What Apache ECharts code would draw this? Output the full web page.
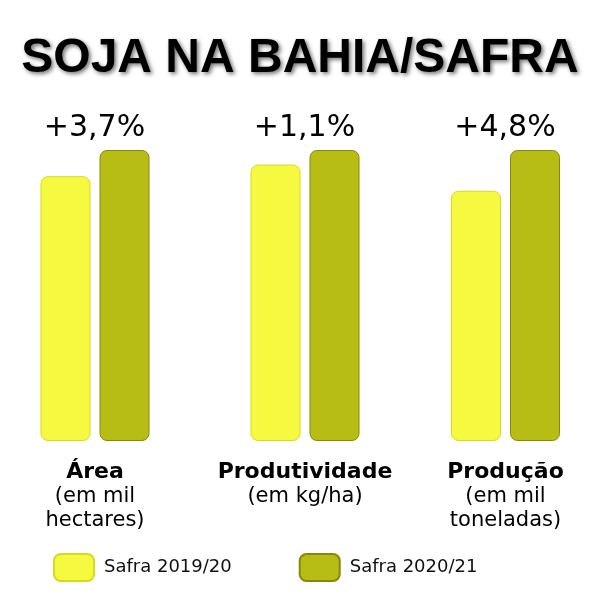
<!DOCTYPE html>
<html><head><meta charset="utf-8">
<script src="https://cdn.jsdelivr.net/npm/echarts@6/dist/echarts.min.js"></script>
<style>html,body{margin:0;padding:0;background:#fff}#c{width:600px;height:606px}</style>
</head><body><div id="c"></div>
<script>
const title = 'SOJA NA BAHIA/SAFRA';
const categories = ['Área', 'Produtividade', 'Produção'];
const units = ['(em mil\nhectares)', '(em kg/ha)', '(em mil\ntoneladas)'];
const seriesNames = ['Safra 2019/20', 'Safra 2020/21'];
const safra1920 = [91, 95, 86];
const safra2021 = [100, 100, 100];
const changes = ['+3,7%', '+1,1%', '+4,8%'];

const FONT = 'DejaVu Sans';
const groupLeft = [0, 210, 411];
const grids = [], xAxes = [], yAxes = [], series = [];
categories.forEach((cat, i) => {
  grids.push({ left: groupLeft[i], width: 190, top: 150, bottom: 165 });
  xAxes.push({
    type: 'category', gridIndex: i, data: [cat],
    axisLine: { show: false }, axisTick: { show: false },
    axisLabel: {
      margin: 18, interval: 0,
      formatter: v => '{b|' + v + '}\n{n|' + units[i] + '}',
      rich: {
        b: { fontFamily: FONT, fontSize: 22, fontWeight: 'bold', color: '#000', lineHeight: 26 },
        n: { fontFamily: FONT, fontSize: 21, color: '#000', lineHeight: 24 }
      }
    }
  });
  yAxes.push({ type: 'value', gridIndex: i, min: 0, max: 100, show: false, splitLine: { show: false } });
  series.push({
    name: seriesNames[0], type: 'bar', xAxisIndex: i, yAxisIndex: i,
    data: [safra1920[i]], barWidth: 50, barGap: '18%',
    itemStyle: { color: '#f5f940', borderColor: '#d6da1e', borderWidth: 1, borderRadius: 7 }
  });
  series.push({
    name: seriesNames[1], type: 'bar', xAxisIndex: i, yAxisIndex: i,
    data: [safra2021[i]], barWidth: 50,
    itemStyle: { color: '#b8bd16', borderColor: '#85880c', borderWidth: 1, borderRadius: 7 },
    label: {
      show: true, position: 'top', offset: [-30, -2],
      formatter: () => changes[i],
      fontFamily: FONT, fontSize: 30, color: '#000'
    }
  });
});

const chart = echarts.init(document.getElementById('c'));
chart.setOption({
  animation: false,
  textStyle: { fontFamily: FONT },
  title: {
    text: title, left: 'center', top: 30,
    textStyle: { fontFamily: 'Liberation Sans', fontSize: 48, fontWeight: 900, color: '#000',
      textShadowColor: 'rgba(0,0,0,0.55)', textShadowBlur: 4, textShadowOffsetX: 2, textShadowOffsetY: 2 }
  },
  legend: {
    left: 48, top: 548, icon: 'roundRect', itemWidth: 40, itemHeight: 27, itemGap: 67,
    textStyle: { fontFamily: FONT, fontSize: 18, color: '#111', padding: [0, 0, 0, 5] },
    data: seriesNames
  },
  grid: grids, xAxis: xAxes, yAxis: yAxes, series: series
});
</script></body></html>
